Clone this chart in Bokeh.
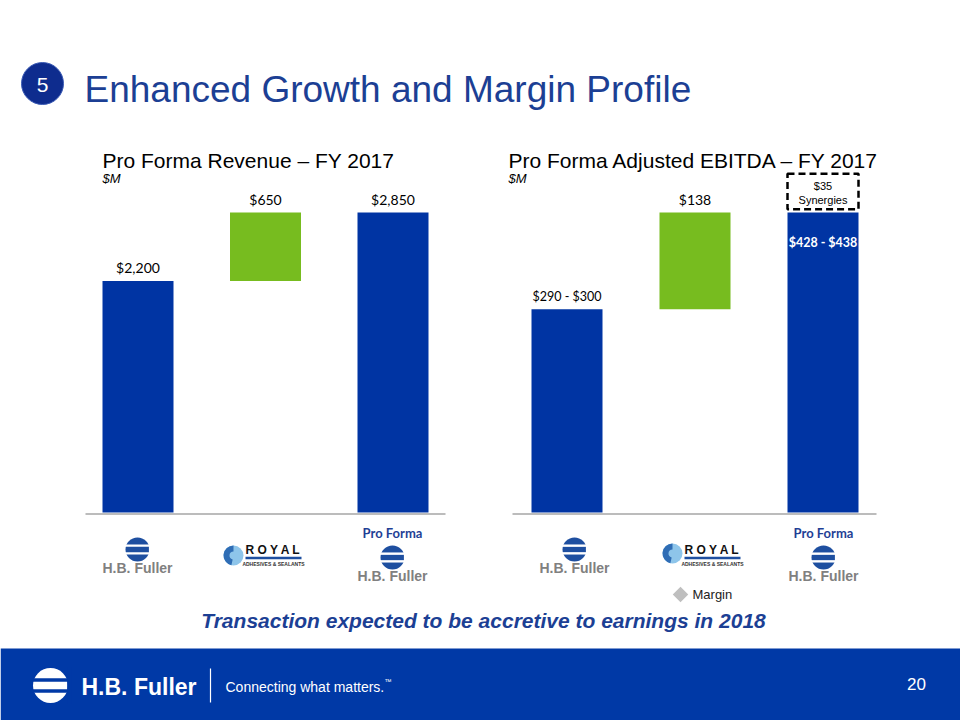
from bokeh.plotting import figure
from bokeh.models import Range1d
from bokeh.core.properties import value
from bokeh.embed import file_html
from bokeh.resources import INLINE

# ---------------- data ----------------
categories = ["H.B. Fuller", "Royal", "Pro Forma"]
rev_values = [2200, 650, 2850]
rev_labels = ["$2,200", "$650", "$2,850"]
ebitda_values = [290, 138, 428]
ebitda_labels = ["$290 - $300", "$138", "$428 - $438"]
synergies = 35
synergy_label = ["$35", "Synergies"]

BLUE = "#0034A3"
GREEN = "#77BC1F"
TITLE_BLUE = "#1C3F94"
GRAY_TXT = "#808080"
ARIAL = value("Liberation Sans")
CAL = value("Lato")

idx = list(range(len(categories)))

def waterfall(vals):
    bottoms = [0, vals[0], 0]
    tops = [vals[0], vals[0] + vals[1], vals[2]]
    return bottoms, tops

rev_bottom, rev_top = waterfall(rev_values)
eb_bottom, eb_top = waterfall(ebitda_values)
colors = [BLUE, GREEN, BLUE]

# ---------------- figure ----------------
p = figure(width=960, height=720, x_range=Range1d(0, 960), y_range=Range1d(720, 0),
           output_backend="svg", toolbar_location=None, min_border=0,
           x_axis_type=None, y_axis_type=None)
p.grid.visible = False
p.outline_line_color = None
p.background_fill_color = "white"

# chart ranges (baseline at page y=512, top of tallest bar at y=212)
p.extra_x_ranges = {
    "rx": Range1d(-137.5 / 127.5, (960 - 137.5) / 127.5),
    "ex": Range1d(-566.5 / 128.0, (960 - 566.5) / 128.0),
}
rs = 2850 / 300.0
es = 428 / 300.0
p.extra_y_ranges = {
    "ry": Range1d(-208 * rs, 512 * rs),
    "ey": Range1d(-208 * es, 512 * es),
}

# ---------------- header ----------------
p.scatter(x=[42], y=[83], size=42, marker="circle", fill_color="#0E2C8E", line_color="#3B5BB5", line_width=1)
p.text(x=[42], y=[84], text=["5"], text_font=ARIAL, text_font_size="21px", text_color="white",
       text_align="center", text_baseline="middle")
p.text(x=[84], y=[89], text=["Enhanced Growth and Margin Profile"], text_font=ARIAL,
       text_font_size="37px", text_color=TITLE_BLUE, text_baseline="middle")

p.text(x=[102, 508], y=[160, 160], text=["Pro Forma Revenue \u2013 FY 2017", "Pro Forma Adjusted EBITDA \u2013 FY 2017"],
       text_font=ARIAL, text_font_size="21px", text_color="black", text_baseline="middle")
p.text(x=[102, 508], y=[178, 178], text=["$M", "$M"], text_font=ARIAL, text_font_style="italic",
       text_font_size="13px", text_color="black", text_baseline="middle")

# ---------------- baselines ----------------
p.line(x=[85, 445], y=[513.5, 513.5], line_color="#A6A6A6", line_width=1.5)
p.line(x=[512, 876], y=[513.5, 513.5], line_color="#A6A6A6", line_width=1.5)

# ---------------- revenue bars ----------------
bw = 71 / 127.5
p.vbar(x=idx, width=bw, bottom=rev_bottom, top=rev_top, fill_color=colors, line_color=None,
       x_range_name="rx", y_range_name="ry")
p.text(x=idx, y=rev_top, text=rev_labels, text_font=CAL, text_font_size="14px", text_color="black",
       text_align="center", text_baseline="bottom", y_offset=-5, x_range_name="rx", y_range_name="ry")

# ---------------- EBITDA bars ----------------
bw2 = 71 / 128.0
p.vbar(x=idx, width=bw2, bottom=eb_bottom, top=eb_top, fill_color=colors, line_color=None,
       x_range_name="ex", y_range_name="ey")
p.text(x=idx[:2], y=eb_top[:2], text=ebitda_labels[:2], text_font=CAL, text_font_size=["12.5px", "14px"],
       text_color="black", text_align="center", text_baseline="bottom", y_offset=-5,
       x_range_name="ex", y_range_name="ey")
p.text(x=idx[2:], y=eb_top[2:], text=ebitda_labels[2:], text_font=CAL, text_font_style="bold",
       text_font_size="12.5px", text_color="white", text_align="center", text_baseline="middle",
       y_offset=30, x_range_name="ex", y_range_name="ey")

# synergies dashed box above pro forma bar
sb = eb_top[2] + 4.5
p.quad(left=[idx[2] - bw2 / 2], right=[idx[2] + bw2 / 2], bottom=[sb], top=[sb + synergies * 1.45],
       fill_color=None, line_color="black", line_width=2.5, line_dash="7 4",
       x_range_name="ex", y_range_name="ey")
p.text(x=[idx[2]] * 2, y=[sb + synergies * 1.45] * 2, text=synergy_label, text_font=ARIAL,
       text_font_size="11px", text_color="black", text_align="center", text_baseline="middle",
       y_offset=[12, 26], x_range_name="ex", y_range_name="ey")

# ---------------- logos ----------------
def hb_logo(cx, cy, r, fg, bg):
    p.scatter(x=[cx], y=[cy], size=2 * r, marker="circle", fill_color=fg, line_color=None)
    p.rect(x=[cx, cx], y=[cy - r * 0.32, cy + r * 0.32], width=2 * r + 2, height=r * 0.2,
           fill_color=bg, line_color=None)
    p.rect(x=[cx + r * 0.95 + 2], y=[cy], width=4, height=2 * r + 2, fill_color=bg, line_color=None)

def hb_block(cx, logo_y, text_y):
    hb_logo(cx, logo_y, 12, "#1E4FA0", "white")
    p.text(x=[cx], y=[text_y], text=["H.B. Fuller"], text_font=ARIAL, text_font_style="bold",
           text_font_size="14px", text_color=GRAY_TXT, text_align="center", text_baseline="middle")

def royal(sx, sy, tx):
    p.scatter(x=[sx], y=[sy], size=20, marker="circle", fill_color="#8EC5EA", line_color=None)
    p.annular_wedge(x=[sx], y=[sy], inner_radius=4, outer_radius=10, start_angle=1.57, end_angle=4.5,
                    fill_color="#2F6DB5", line_color=None)
    p.text(x=[tx], y=[549], text=["R  O  Y  A  L"], text_font=ARIAL, text_font_style="bold",
           text_font_size="12px", text_color="#111111", text_baseline="middle")
    p.rect(x=[tx + 28], y=[557.5], width=56, height=2.5, fill_color="#1E4FA0", line_color=None)
    p.text(x=[tx + 28], y=[563.5], text=["ADHESIVES & SEALANTS"], text_font=ARIAL, text_font_style="bold",
           text_font_size="5px", text_color="#333333", text_align="center", text_baseline="middle")

hb_block(137, 549, 567)
royal(233, 555, 245)
p.text(x=[392], y=[532], text=["Pro Forma"], text_font=CAL, text_font_style="bold", text_font_size="13px",
       text_color="#1F3F95", text_align="center", text_baseline="middle")
hb_block(392, 557, 575)

hb_block(574, 549, 567)
royal(672, 553, 684)
p.text(x=[823], y=[532], text=["Pro Forma"], text_font=CAL, text_font_style="bold", text_font_size="13px",
       text_color="#1F3F95", text_align="center", text_baseline="middle")
hb_block(823, 557, 575)

# margin legend
p.scatter(x=[680], y=[594], marker="square", angle=0.785398, size=11, fill_color="#BFBFBF", line_color=None)
p.text(x=[692], y=[594], text=["Margin"], text_font=ARIAL, text_font_size="13px", text_color="#222222",
       text_baseline="middle")

# takeaway
p.text(x=[483], y=[620], text=["Transaction expected to be accretive to earnings in 2018"], text_font=ARIAL,
       text_font_style="bold italic", text_font_size="21px", text_color=TITLE_BLUE,
       text_align="center", text_baseline="middle")

# ---------------- footer ----------------
p.quad(left=[0], right=[960], top=[648], bottom=[720], fill_color="#0039A6", line_color=None)
hb_logo(50, 685, 17.5, "white", "#0039A6")
p.text(x=[81], y=[686], text=["H.B. Fuller"], text_font=ARIAL, text_font_style="bold", text_font_size="23px",
       text_color="white", text_baseline="middle")
p.line(x=[210, 210], y=[668, 702], line_color="white", line_width=1.2)
p.text(x=[225], y=[686], text=["Connecting what matters."], text_font=ARIAL, text_font_size="14px",
       text_color="white", text_baseline="middle")
p.text(x=[384], y=[681], text=["\u2122"], text_font=ARIAL, text_font_size="7px",
       text_color="white", text_baseline="middle")
p.text(x=[916], y=[683], text=["20"], text_font=ARIAL, text_font_size="17px", text_color="white",
       text_align="center", text_baseline="middle")

open("out.html", "w").write(file_html(p, INLINE))
